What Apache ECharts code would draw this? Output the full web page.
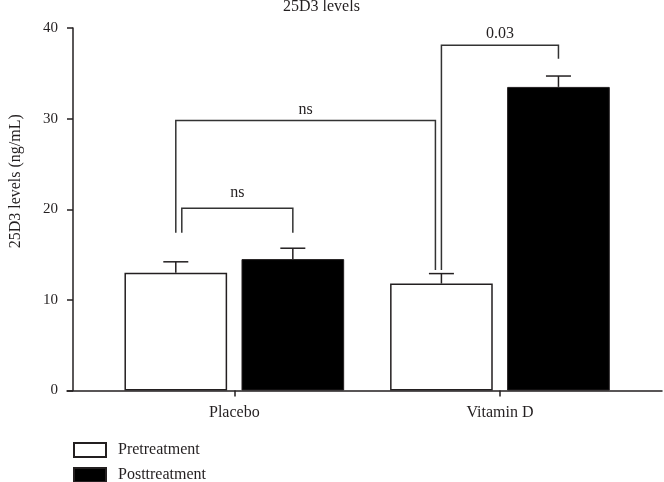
<!DOCTYPE html>
<html>
<head>
<meta charset="utf-8">
<script src="https://cdn.jsdelivr.net/npm/echarts@6/dist/echarts.min.js"></script>
<style>
html,body{margin:0;padding:0;background:#fff;}
#chart{width:664px;height:482px;}
</style>
</head>
<body>
<div id="chart"></div>
<script>
// ---- data ----
const categories = ['Placebo', 'Vitamin D'];
const seriesNames = ['Pretreatment', 'Posttreatment'];
const pretreatment = [13.0, 11.8];
const posttreatment = [14.5, 33.5];
const preSem = [1.2, 1.1];
const postSem = [1.2, 1.2];
const yTicks = [0, 10, 20, 30, 40];
// significance brackets: [fromCategory, fromGroup, toCategory, toGroup, top, leftLegEnd, rightLegEnd]
const bracketValues = [
  [0, 0, 0, 1, 20.1, 17.4, 17.4],
  [0, 0, 1, 0, 29.8, 17.4, 13.3],
  [1, 0, 1, 1, 38.1, 13.3, 36.6]
];
const bracketLabels = ['ns', 'ns', '0.03'];

// ---- style ----
const INK = '#231f20';
const FONT = '"Liberation Serif", "Times New Roman", serif';
const BAR_FRAC = 0.3865;
const GAP_FRAC = 0.14;
const legShift = [[6, 0], [0, -6], [0, 0]];
const labelGap = [8, 3, 3];

function barCenterOffset(band, grp) {
  const bw = band * BAR_FRAC;
  return (grp === 0 ? -1 : 1) * bw * (1 + GAP_FRAC) / 2;
}

const errorData = [];
categories.forEach((c, i) => {
  errorData.push([i, 0, pretreatment[i], preSem[i]]);
  errorData.push([i, 1, posttreatment[i], postSem[i]]);
});

const chart = echarts.init(document.getElementById('chart'));
chart.setOption({
  animation: false,
  backgroundColor: '#fff',
  title: {
    text: '25D3 levels',
    left: 283, top: -1, padding: 0,
    textStyle: { fontFamily: FONT, fontSize: 16, fontWeight: 'normal', color: INK }
  },
  legend: {
    data: seriesNames,
    orient: 'vertical',
    left: 73, top: 442, padding: 0, height: 100,
    icon: 'rect',
    itemWidth: 32, itemHeight: 14, itemGap: 9,
    textStyle: { fontFamily: FONT, fontSize: 16, color: INK, padding: [0, 0, 0, 7] }
  },
  grid: [
    { left: 99.75, right: 31.25, top: 28, bottom: 91.5 },
    { left: 67, right: 2, top: 28, bottom: 91.5 }
  ],
  xAxis: [
    {
      type: 'category', data: categories, gridIndex: 0,
      axisLine: { show: false },
      axisTick: { show: true, alignWithLabel: true, length: 6, lineStyle: { color: INK, width: 1.5 } },
      axisLabel: { fontFamily: FONT, fontSize: 16, color: INK, margin: 14 }
    },
    {
      type: 'value', gridIndex: 1, min: 0, max: 1,
      axisLine: { show: true, lineStyle: { color: INK, width: 1.5 } },
      axisTick: { show: false }, axisLabel: { show: false }, splitLine: { show: false }
    }
  ],
  yAxis: [
    {
      type: 'value', gridIndex: 0, min: yTicks[0], max: yTicks[yTicks.length - 1], interval: 10,
      offset: 28.5,
      name: '25D3 levels (ng/mL)', nameLocation: 'middle', nameGap: 49,
      nameTextStyle: { fontFamily: FONT, fontSize: 16, color: INK, padding: [0, 0, 0, 56] },
      axisLine: { show: true, lineStyle: { color: INK, width: 1.5 } },
      axisTick: { show: true, length: 6, lineStyle: { color: INK, width: 1.5 } },
      axisLabel: { fontFamily: FONT, fontSize: 15, color: INK, margin: 15 },
      splitLine: { show: false }
    },
    {
      type: 'value', gridIndex: 1, min: 0, max: 40, show: false
    }
  ],
  series: [
    {
      name: seriesNames[0], type: 'bar', data: pretreatment,
      barWidth: (BAR_FRAC * 100) + '%', barGap: (GAP_FRAC * 100) + '%',
      itemStyle: { color: '#ffffff', borderColor: INK, borderWidth: 1.5 }
    },
    {
      name: seriesNames[1], type: 'bar', data: posttreatment,
      barWidth: (BAR_FRAC * 100) + '%', barGap: (GAP_FRAC * 100) + '%',
      itemStyle: { color: '#000000', borderColor: INK, borderWidth: 1 }
    },
    {
      type: 'custom', z: 5, data: errorData,
      encode: { x: 0, y: 2 },
      renderItem: function (params, api) {
        const cat = api.value(0), grp = api.value(1), mean = api.value(2), sem = api.value(3);
        const band = api.size([1, 0])[0];
        const base = api.coord([cat, mean]);
        const hi = api.coord([cat, mean + sem]);
        const x = base[0] + barCenterOffset(band, grp);
        const style = { stroke: INK, lineWidth: 1.5 };
        return {
          type: 'group',
          children: [
            { type: 'line', shape: { x1: x, y1: base[1], x2: x, y2: hi[1] }, style: style },
            { type: 'line', shape: { x1: x - 12.5, y1: hi[1], x2: x + 12.5, y2: hi[1] }, style: style }
          ]
        };
      }
    },
    {
      type: 'custom', z: 6, data: bracketValues,
      encode: { x: 0, y: 4 },
      renderItem: function (params, api) {
        const i = params.dataIndex;
        const b = bracketValues[i];
        const band = api.size([1, 0])[0];
        const x1 = api.coord([b[0], 0])[0] + barCenterOffset(band, b[1]) + legShift[i][0];
        const x2 = api.coord([b[2], 0])[0] + barCenterOffset(band, b[3]) + legShift[i][1];
        const yTop = api.coord([b[0], b[4]])[1];
        const yL = api.coord([b[0], b[5]])[1];
        const yR = api.coord([b[0], b[6]])[1];
        return {
          type: 'group',
          children: [
            { type: 'polyline', shape: { points: [[x1, yL], [x1, yTop], [x2, yTop], [x2, yR]] },
              style: { stroke: '#333', lineWidth: 1.5, fill: null } },
            { type: 'text', x: (x1 + x2) / 2, y: yTop - labelGap[i],
              style: { text: bracketLabels[i], fill: INK, font: '16px ' + FONT, textAlign: 'center', textVerticalAlign: 'bottom' } }
          ]
        };
      }
    }
  ]
});
</script>
</body>
</html>
